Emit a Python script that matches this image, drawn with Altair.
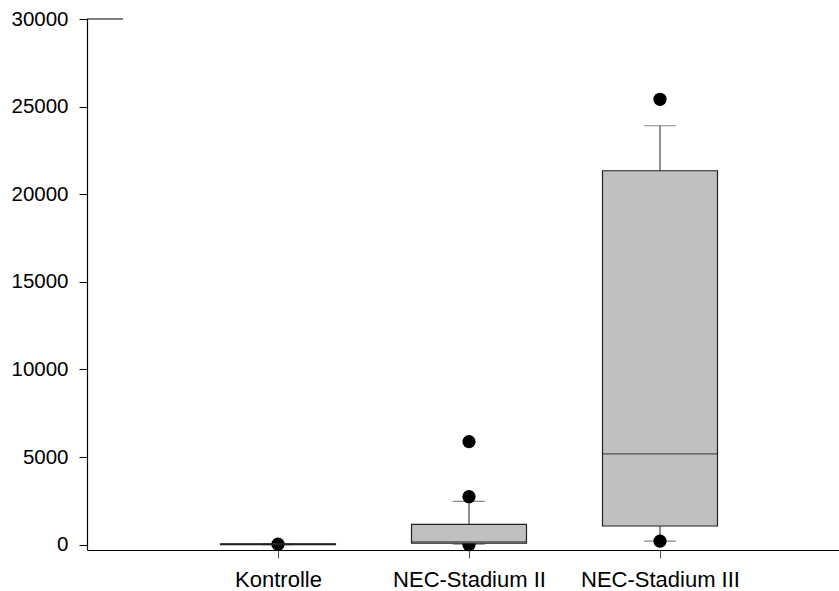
import altair as alt
import pandas as pd

# Groups and box-plot statistics
groups = ["Kontrolle", "NEC-Stadium II", "NEC-Stadium III"]
whisker_low = [10, 30, 210]
q1 = [10, 90, 1070]
median = [30, 170, 5180]
q3 = [50, 1160, 21340]
whisker_high = [50, 2480, 23910]

# Outlying points
outlier_group = ["Kontrolle", "NEC-Stadium II", "NEC-Stadium II", "NEC-Stadium II",
                 "NEC-Stadium III", "NEC-Stadium III"]
outlier_value = [30, 0, 2740, 5880, 210, 25420]

y_ticks = [0, 5000, 10000, 15000, 20000, 25000, 30000]
y_max = 30000

stats = pd.DataFrame({
    "group": groups,
    "lo": whisker_low,
    "q1": q1,
    "med": median,
    "q3": q3,
    "hi": whisker_high,
})
outliers = pd.DataFrame({"group": outlier_group, "value": outlier_value})

FONT = "Liberation Sans"

x_enc = alt.X(
    "group:N",
    sort=groups,
    scale=alt.Scale(type="point", padding=0.9686, align=0.5162),
    axis=alt.Axis(
        title=None, labelAngle=0, labelFont=FONT, labelFontSize=22,
        labelColor="black", tickColor="#555555", tickSize=8, labelPadding=11,
        domainColor="black", domainWidth=1.2, grid=False,
    ),
)
y_scale = alt.Scale(domain=[-300, y_max], nice=False, zero=False)
y_axis = alt.Axis(
    title=None, values=y_ticks, format="d", labelFont=FONT, labelFontSize=20.5,
    labelColor="black", tickColor="black", tickSize=8, labelPadding=11,
    domainColor="black", domainWidth=1.2, grid=False,
)

base = alt.Chart(stats)

whisker_up = base.mark_rule(color="#444444", strokeWidth=1.2).encode(
    x=x_enc,
    y=alt.Y("q3:Q", scale=y_scale, axis=y_axis),
    y2="hi:Q",
)
whisker_dn = base.mark_rule(color="#444444", strokeWidth=1.2).encode(
    x=x_enc, y=alt.Y("lo:Q", scale=y_scale), y2="q1:Q"
)
cap_hi = base.mark_tick(color="#555555", size=32, thickness=1.2).encode(
    x=x_enc, y=alt.Y("hi:Q", scale=y_scale)
)
cap_lo = base.mark_tick(color="#555555", size=32, thickness=1.2).encode(
    x=x_enc, y=alt.Y("lo:Q", scale=y_scale)
)
dots = alt.Chart(outliers).mark_circle(color="black", opacity=1, size=175).encode(
    x=x_enc, y=alt.Y("value:Q", scale=y_scale)
)
box = base.mark_bar(
    fill="#c0c0c0", stroke="#222222", strokeWidth=1.2, size=115
).encode(x=x_enc, y=alt.Y("q1:Q", scale=y_scale), y2="q3:Q")
mid = base.mark_tick(color="#222222", size=115, thickness=1.2).encode(
    x=x_enc, y=alt.Y("med:Q", scale=y_scale)
)

# short cap at the top end of the value axis
top_cap = alt.Chart(pd.DataFrame({"v": [y_max]})).mark_rule(
    color="black", strokeWidth=1.2
).encode(
    y=alt.Y("v:Q", scale=y_scale),
    x=alt.value(0),
    x2=alt.value(36),
)

chart = (
    alt.layer(whisker_up, whisker_dn, cap_hi, cap_lo, dots, box, mid, top_cap)
    .properties(
        width=752,
        height=531,
        autosize=alt.AutoSizeParams(type="none"),
        padding={"left": 87, "top": 19, "right": 0, "bottom": 41},
    )
    .configure_view(strokeWidth=0)
    .configure_axis(grid=False)
)

chart.save("out.html", embed_options={"renderer": "svg", "actions": False})
